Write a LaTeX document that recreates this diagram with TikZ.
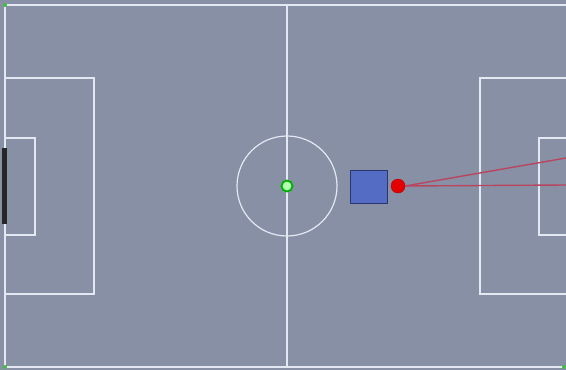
\documentclass[tikz,border=0pt]{standalone}
\usetikzlibrary{positioning}
\definecolor{turf}{RGB}{136,144,166}
\definecolor{chalk}{RGB}{228,232,242}
\definecolor{botblue}{RGB}{84,108,196}
\definecolor{botedge}{RGB}{40,56,110}
\definecolor{rayred}{RGB}{185,70,95}
\tikzset{
    fieldline/.style={draw=chalk, line width=1.2pt},
    robot/.style={draw=botedge, fill=botblue, line width=1pt, minimum width=37pt, minimum height=33pt, inner sep=0pt},
    ballnode/.style={circle, draw=red!70!black, fill=red!90!black, minimum size=14pt, inner sep=0pt},
    ray/.style={draw=rayred, line width=1.4pt}
}
\begin{document}
\begin{tikzpicture}[x=1pt, y=-1pt]
                \useasboundingbox (0,0) rectangle (566,370);
                \fill[turf] (0,0) rectangle (566,370);
                % pitch lines
                \draw[fieldline] (5,5) rectangle (570,367);
                \draw[fieldline] (287,5) -- (287,367);
                \draw[fieldline] (287,186) circle (50);
                \foreach \x/\w in {5/89, 570/-90}
                    \draw[fieldline] (\x,78) rectangle (\x+\w, 294);
                \foreach \x/\w in {5/30, 570/-31}
                    \draw[fieldline] (\x,138) rectangle (\x+\w, 235);
                \fill[black!85] (2,148) rectangle (7,224);
                \foreach \x/\y in {5/5, 5/367, 564/367}
                    \fill[green!50!gray] (\x,\y) circle (2);
                % players and ball
                \node[circle, draw=green!70!black, fill=green!30!white, line width=1.8pt, minimum size=11pt, inner sep=0pt] (spot) at (287,186) {};
                \node[robot] (bot) at (369,187) {};
                \node[ballnode] (ball) at (398,186) {};
                \coordinate (aimhi) at (566,158);
                \coordinate (aimlo) at (566,185);
                \draw[ray] (ball.east) -- (aimhi);
                \draw[ray] (ball.east) -- (aimlo);
            \end{tikzpicture}
\end{document}
